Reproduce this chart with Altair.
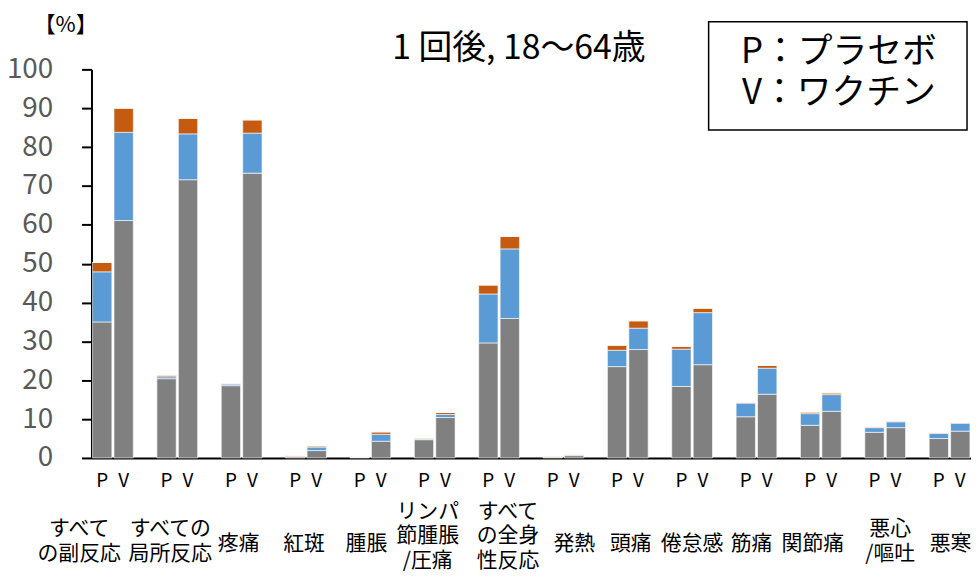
import altair as alt
import pandas as pd

# ---- data ----
label_lines = [
    "すべて\nの副反応", "すべての\n局所反応", "疼痛", "紅斑", "腫脹",
    "リンパ\n節腫脹\n/圧痛", "すべて\nの全身\n性反応", "発熱", "頭痛",
    "倦怠感", "筋痛", "関節痛", "悪心\n/嘔吐", "悪寒",
]
arms = ["P", "V"]
grades = ["軽度", "中等度", "重度", "グレード4"]
colors = ["#808080", "#5B9BD5", "#C55A11", "#FFC000"]

# segment values [%] per category: placebo / vaccine
p_mild = [35.0, 20.4, 18.6, 0.3, 0.2, 4.7, 29.6, 0.2, 23.5, 18.4, 10.6, 8.4, 6.6, 5.0]
p_mod  = [12.9, 0.5, 0.4, 0.1, 0.05, 0.2, 12.6, 0.1, 4.2, 9.6, 3.5, 3.0, 1.2, 1.3]
p_sev  = [2.4, 0.4, 0.2, 0.2, 0.05, 0.2, 2.3, 0.1, 1.3, 0.7, 0.2, 0.4, 0.2, 0.2]
p_g4   = [0, 0, 0, 0, 0, 0, 0, 0.1, 0, 0, 0, 0, 0, 0]
v_mild = [61.1, 71.6, 73.3, 1.9, 4.3, 10.4, 35.9, 0.6, 27.9, 24.0, 16.4, 12.0, 7.8, 6.9]
v_mod  = [22.7, 11.8, 10.3, 0.9, 1.8, 0.8, 17.9, 0.2, 5.5, 13.4, 6.7, 4.3, 1.5, 2.0]
v_sev  = [6.2, 4.0, 3.4, 0.3, 0.6, 0.5, 3.2, 0.1, 1.9, 1.1, 0.7, 0.4, 0.2, 0.2]
v_g4   = [0, 0, 0, 0, 0, 0, 0, 0.1, 0, 0.1, 0, 0.1, 0, 0]

title_text = "1 回後, 18～64歳"
legend_lines = ["P：プラセボ", "V：ワクチン"]
y_ticks = list(range(0, 101, 10))

# ---- tables ----
rows = []
series = {"P": [p_mild, p_mod, p_sev, p_g4], "V": [v_mild, v_mod, v_sev, v_g4]}
for i in range(len(label_lines)):
    for a_idx, arm in enumerate(arms):
        for g_idx, g in enumerate(grades):
            rows.append({"cat": i, "arm": arm, "slot": 3 * i + a_idx,
                         "grade": g, "order": g_idx,
                         "value": series[arm][g_idx][i]})
df = pd.DataFrame(rows)

pv = pd.DataFrame([{"slot": 3 * i + k, "arm": arm}
                   for i in range(len(label_lines)) for k, arm in enumerate(arms)])
labs = pd.DataFrame([{"idx": i, "center": 3 * i + 0.5, "label": t}
                     for i, t in enumerate(label_lines)])

W, H = 885, 391
FONT = "Noto Sans CJK JP"
LH = 25
xscale = alt.Scale(domain=[-0.5, 40.5], nice=False, zero=False)

bars = alt.Chart(df).transform_stack(
    stack="value", groupby=["slot"], as_=["y0", "y1"],
    sort=[alt.SortField("order", order="ascending")],
).transform_calculate(
    xa="datum.slot - 0.45", xb="datum.slot + 0.45"
).mark_rect(stroke="white", strokeWidth=0.6).encode(
    x=alt.X("xa:Q", scale=xscale,
            axis=alt.Axis(labels=False, ticks=False, grid=False, title=None,
                          domainColor="black", domainWidth=2)),
    x2="xb:Q",
    y=alt.Y("y0:Q", scale=alt.Scale(domain=[0, 100], nice=False),
            axis=alt.Axis(values=y_ticks, grid=False, title=None,
                          domainColor="black", domainWidth=2,
                          tickColor="black", tickWidth=2, tickSize=10,
                          labelColor="#595959", labelFontSize=28,
                          labelFont=FONT, labelPadding=29)),
    y2="y1:Q",
    color=alt.Color("grade:N", scale=alt.Scale(domain=grades, range=colors),
                    legend=None),
)

pv_text = alt.Chart(pv).mark_text(
    font=FONT, fontSize=19, color="black", baseline="middle", align="center"
).encode(
    x=alt.X("slot:Q", scale=xscale),
    y=alt.value(H + 23),
    text="arm:N",
)

# category labels: one text layer per label (vertical placement of the block
# and the small horizontal shifts of the original wrapping)
label_dx = [-34, -7, -3, -2, -4, -7, 9, 11, 3, 0, -5, -8, 5, 1]
first_line_dy = {1: 2, 2: -13.5, 3: -31}
cat_layers = []
for i, t in enumerate(label_lines):
    n = t.count("\n") + 1
    cat_layers.append(
        alt.Chart(labs).transform_filter(f"datum.idx == {i}").mark_text(
            font=FONT, fontSize=21, color="black", baseline="middle",
            align="center", lineBreak="\n", lineHeight=LH,
            dx=label_dx[i], dy=first_line_dy[n],
        ).encode(
            x=alt.X("center:Q", scale=xscale),
            y=alt.value(H + 85),
            text="label:N",
        )
    )

unit = alt.Chart(pd.DataFrame({"t": ["【%】"]})).mark_text(
    font=FONT, fontSize=22, color="black", align="center", baseline="middle"
).encode(x=alt.value(-26), y=alt.value(-45), text="t:N")

title = alt.Chart(pd.DataFrame({"t": [title_text]})).mark_text(
    font=FONT, fontSize=34, color="black", align="center", baseline="middle"
).encode(x=alt.value(430), y=alt.value(-20), text="t:N")

box = alt.Chart(pd.DataFrame({"a": [0]})).mark_rect(
    fill="white", stroke="black", strokeWidth=1.5
).encode(x=alt.value(621), x2=alt.value(881), y=alt.value(-48), y2=alt.value(61))

box_text = alt.Chart(pd.DataFrame({"t": ["\n".join(legend_lines)]})).mark_text(
    font=FONT, fontSize=35, color="black", align="center", baseline="middle",
    lineBreak="\n", lineHeight=41,
).encode(x=alt.value(752), y=alt.value(-17), text="t:N")

chart = alt.layer(
    bars, pv_text, *cat_layers, unit, title, box, box_text
).properties(
    width=W, height=H,
    autosize=alt.AutoSizeParams(type="none"),
    padding={"left": 84, "top": 60, "right": 0, "bottom": 113},
).configure_view(stroke=None)

chart.save("out.html", embed_options={"renderer": "svg", "actions": False})
